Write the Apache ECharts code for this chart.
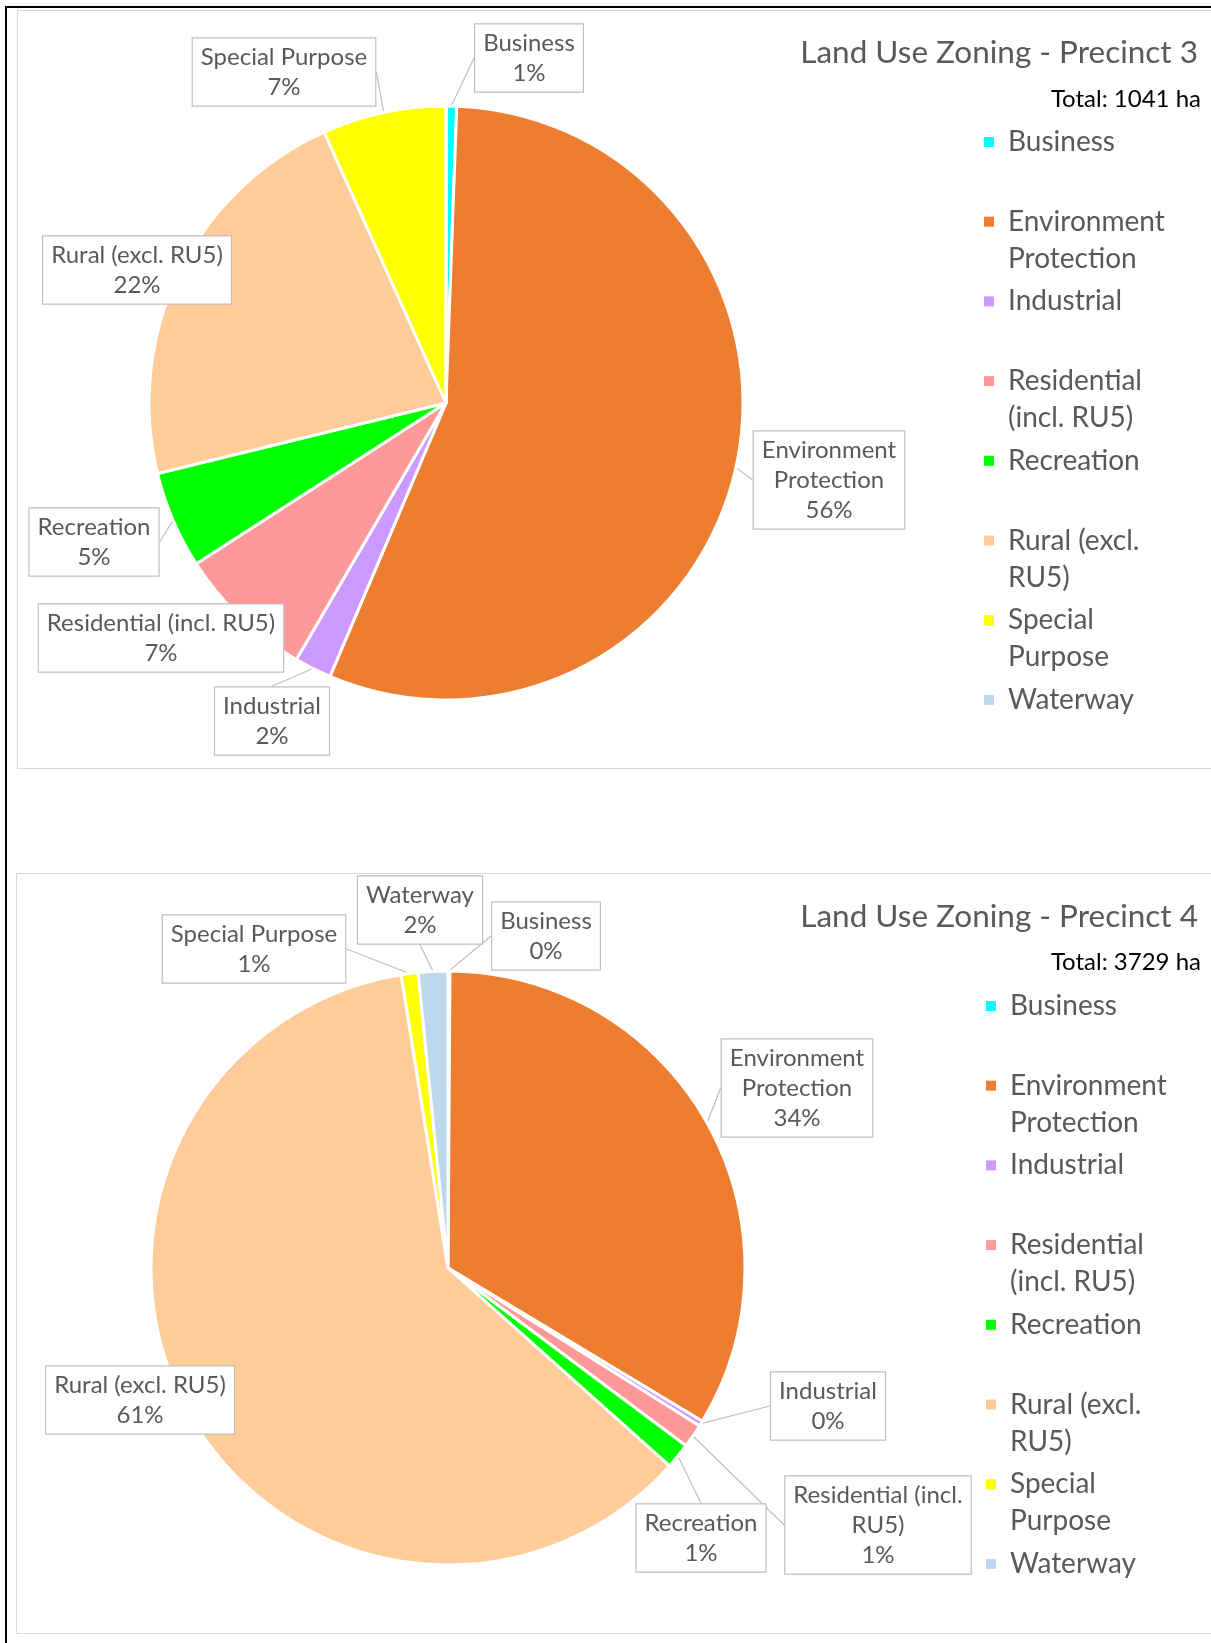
<!DOCTYPE html>
<html><head><meta charset="utf-8">
<script src="https://cdn.jsdelivr.net/npm/echarts/dist/echarts.min.js"></script>
<style>html,body{margin:0;padding:0;background:#fff}#c{width:1211px;height:1643px}</style>
</head><body><div id="c"></div>
<script>
// ---- data ----
const categories = ['Business','Environment Protection','Industrial','Residential (incl. RU5)','Recreation','Rural (excl. RU5)','Special Purpose','Waterway'];
const legendLabels = ['Business','Environment\nProtection','Industrial','Residential\n(incl. RU5)','Recreation','Rural (excl.\nRU5)','Special\nPurpose','Waterway'];
const colors = ['#00FFFF','#ED7D31','#CC99FF','#FF9999','#00FF00','#FFCC99','#FFFF00','#BDD7EE'];
const p3Values = [6, 581, 21, 78, 55, 230, 70, 0];
const p4Values = [4, 1250, 11, 48, 52, 2270, 34, 60];
const p3LabelNames = ['Business','Environment\nProtection','Industrial','Residential (incl. RU5)','Recreation','Rural (excl. RU5)','Special Purpose',''];
const p4LabelNames = ['Business','Environment\nProtection','Industrial','Residential (incl.\nRU5)','Recreation','Rural (excl. RU5)','Special Purpose','Waterway'];
const titles = ['Land Use Zoning - Precinct 3','Land Use Zoning - Precinct 4'];

// ---- layout (positions / styles) ----
const FONT = 'Lato';
const LH = 37;
const p3LabelPos = [[529,58],[829,480],[272,721],[161,638],[94,542],[137,270],[284,72],null];
const p4LabelPos = [[546,936],[797,1088],[828,1406],[878,1525],[701,1538],[140,1400],[254,949],[420,910]];

const sum = a => a.reduce((s, v) => s + v, 0);
const isWrapped = i => legendLabels[i].indexOf('\n') >= 0;

function legendCfg(top, left) {
  return {
    orient: 'vertical', left: left, top: top - 1.5 * LH, padding: 0,
    itemWidth: 10, itemHeight: 10, itemGap: 79.7 - 3 * LH, icon: 'rect',
    selectedMode: false,
    itemStyle: { borderWidth: 0 },
    formatter: name => {
      const i = categories.indexOf(name);
      return isWrapped(i) ? '\n' + legendLabels[i] : legendLabels[i];
    },
    textStyle: { fontFamily: FONT, fontSize: 28, lineHeight: LH, color: '#595959' },
    data: categories.map((n, i) => ({
      name: n,
      textStyle: { padding: isWrapped(i) ? [0, 0, 0, 9] : [LH, 0, LH, 9] }
    }))
  };
}

function pieSeries(values, labelNames, posArr, center) {
  const total = sum(values);
  return {
    type: 'pie', center: center, radius: 297, startAngle: 90, clockwise: true,
    avoidLabelOverlap: false, animation: false,
    emphasis: { disabled: true },
    itemStyle: { borderColor: '#fff', borderWidth: 3 },
    label: {
      show: true, position: 'outside',
      formatter: p => labelNames[p.dataIndex] + '\n' + Math.round(p.value / total * 100) + '%',
      color: '#595959', fontFamily: FONT, fontSize: 24, lineHeight: 30,
      backgroundColor: '#fff', borderColor: '#bfbfbf', borderWidth: 1.2,
      padding: [4, 8, 3, 8], align: 'center'
    },
    labelLine: { show: true, length: 10, length2: 0, lineStyle: { color: '#bfbfbf', width: 1.2 } },
    labelLayout: p => {
      const pos = posArr[p.dataIndex];
      return pos ? { x: pos[0], y: pos[1], align: 'center', verticalAlign: 'middle' } : {};
    },
    data: categories.map((n, i) => {
      const d = { name: n, value: values[i], itemStyle: { color: colors[i] } };
      if (!posArr[i]) { d.label = { show: false }; d.labelLine = { show: false }; }
      return d;
    })
  };
}

const chart = echarts.init(document.getElementById('c'), null, { renderer: 'canvas' });
chart.setOption({
  animation: false,
  backgroundColor: '#fff',
  color: colors,
  title: [
    { text: titles[0], right: 13, top: 53 - 20, padding: 0, textStyle: { fontFamily: FONT, fontSize: 31.5, lineHeight: 40, fontWeight: 'normal', color: '#595959' } },
    { text: 'Total: ' + sum(p3Values) + ' ha', right: 10, top: 99 - 15, padding: 0, textStyle: { fontFamily: FONT, fontSize: 24, lineHeight: 30, fontWeight: 'normal', color: '#000' } },
    { text: titles[1], right: 13, top: 917 - 20, padding: 0, textStyle: { fontFamily: FONT, fontSize: 31.5, lineHeight: 40, fontWeight: 'normal', color: '#595959' } },
    { text: 'Total: ' + sum(p4Values) + ' ha', right: 10, top: 962 - 15, padding: 0, textStyle: { fontFamily: FONT, fontSize: 24, lineHeight: 30, fontWeight: 'normal', color: '#000' } }
  ],
  legend: [legendCfg(142, 984), legendCfg(1006, 986)],
  tooltip: { show: false },
  graphic: [
    { type: 'rect', z: -10, shape: { x: 17.5, y: 10.5, width: 1300, height: 758 }, style: { fill: 'none', stroke: '#d9d9d9', lineWidth: 1.2 } },
    { type: 'rect', z: -10, shape: { x: 16.5, y: 873.5, width: 1300, height: 760 }, style: { fill: 'none', stroke: '#d9d9d9', lineWidth: 1.2 } },
    { type: 'rect', z: 10, shape: { x: 5, y: 6, width: 1206, height: 2 }, style: { fill: '#000' } },
    { type: 'rect', z: 10, shape: { x: 5, y: 6, width: 2, height: 1637 }, style: { fill: '#000' } }
  ],
  series: [
    pieSeries(p3Values, p3LabelNames, p3LabelPos, [446, 403]),
    pieSeries(p4Values, p4LabelNames, p4LabelPos, [448, 1268])
  ]
});
</script></body></html>
